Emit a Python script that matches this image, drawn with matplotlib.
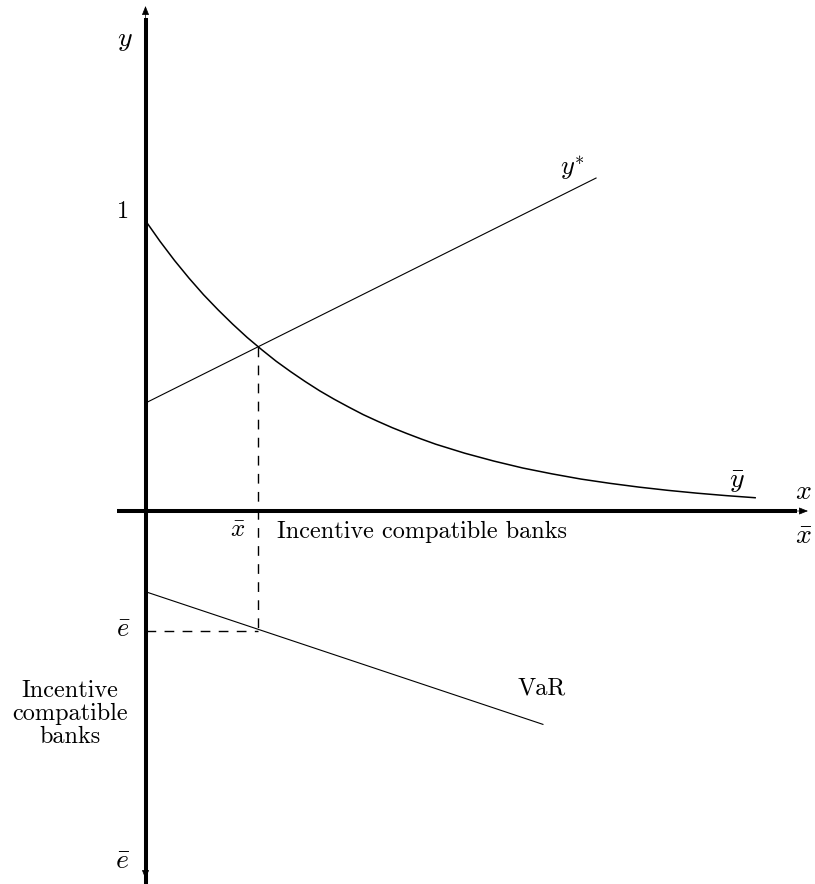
import matplotlib
matplotlib.use("Agg")
import matplotlib.pyplot as plt

plt.rcParams["mathtext.fontset"] = "cm"
plt.rcParams["font.family"] = ["cmr10", "DejaVu Serif"]

# -------------------------------------------------------------------------
# Data (model units)
# -------------------------------------------------------------------------
ybar_x = [0.0, 0.05, 0.1, 0.15, 0.2, 0.25, 0.3, 0.35, 0.4, 0.45, 0.5,
          0.55, 0.6, 0.65, 0.7, 0.75, 0.8, 0.85, 0.9, 0.95, 1.0,
          1.1, 1.2, 1.3, 1.4, 1.5, 1.6, 1.7, 1.8, 1.9, 2.0, 2.1]
ybar_y = [1.000, 0.929, 0.863, 0.802, 0.745, 0.693, 0.644, 0.598, 0.556,
          0.516, 0.480, 0.446, 0.414, 0.385, 0.358, 0.332, 0.309, 0.287,
          0.267, 0.248, 0.230, 0.199, 0.172, 0.148, 0.128, 0.110, 0.0953,
          0.0823, 0.0711, 0.0614, 0.0530, 0.0457]

ystar_x = [0.0, 1.552]
ystar_y = [0.372, 1.147]

var_x = [0.0, 1.369]
var_y = [-0.278, -0.735]

xbar = 0.3875
ystar_at_xbar = 0.5655
ebar = -0.412

# -------------------------------------------------------------------------
# Figure
# -------------------------------------------------------------------------
fig = plt.figure(figsize=(8.15, 8.84), dpi=100)
ax = fig.add_axes([0, 0, 1, 1])
ax.set_xlim(-0.5012, 2.3062)
ax.set_ylim(-1.2849, 1.7603)
ax.axis("off")

axis_lw = 2.9
head = "-|>,head_length=0.55,head_width=0.22"

# axes
ax.plot([0, 0], [-1.30, 1.70], color="k", lw=axis_lw, solid_capstyle="butt")
ax.annotate("", xy=(0, 1.7396), xytext=(0, 1.69),
            arrowprops=dict(arrowstyle=head, color="k", lw=0.5,
                            shrinkA=0, shrinkB=0))
ax.annotate("", xy=(0, -1.2677), xytext=(0, -1.22),
            arrowprops=dict(arrowstyle=head, color="k", lw=0.5,
                            shrinkA=0, shrinkB=0))
ax.plot([-0.098, 2.245], [0, 0], color="k", lw=axis_lw, solid_capstyle="butt")
ax.annotate("", xy=(2.282, 0), xytext=(2.24, 0),
            arrowprops=dict(arrowstyle=head, color="k", lw=0.5,
                            shrinkA=0, shrinkB=0))

# curves
ax.plot(ybar_x, ybar_y, color="k", lw=1.1, solid_joinstyle="round")
ax.plot(ystar_x, ystar_y, color="k", lw=0.8)
ax.plot(var_x, var_y, color="k", lw=0.8)

# dashed guides
ax.plot([xbar, xbar], [ystar_at_xbar, ebar], color="k", lw=1.0,
        dashes=(7, 6))
ax.plot([0, xbar], [ebar, ebar], color="k", lw=1.0, dashes=(7, 6))

# labels
fs = 17.5
mfs = 20
ax.text(-0.0706, 1.622, r"$y$", fontsize=mfs, ha="center", va="center")
ax.text(-0.0775, 1.030, "1", fontsize=fs, ha="center", va="center")
ax.text(1.470, 1.181, r"$y^{*}$", fontsize=mfs - 1, ha="center", va="center")
ax.text(2.037, 0.100, r"$\bar{y}$", fontsize=mfs, ha="center", va="center")
ax.text(2.265, 0.065, r"$x$", fontsize=mfs, ha="center", va="center")
ax.text(2.265, -0.090, r"$\bar{x}$", fontsize=mfs, ha="center", va="center")
ax.text(0.319, -0.065, r"$\bar{x}$", fontsize=mfs - 2, ha="center", va="center")
ax.text(0.453, -0.072, "Incentive compatible banks", fontsize=fs,
        ha="left", va="center")
ax.text(-0.0775, -0.410, r"$\bar{e}$", fontsize=mfs - 1, ha="center", va="center")
ax.text(1.366, -0.610, "VaR", fontsize=fs, ha="center", va="center")
ax.text(-0.260, -0.699, "Incentive\ncompatible\nbanks", fontsize=fs,
        ha="center", va="center", linespacing=1.05)
ax.text(-0.0775, -1.209, r"$\bar{e}$", fontsize=mfs, ha="center", va="center")

fig.savefig("out.png", dpi=100)
